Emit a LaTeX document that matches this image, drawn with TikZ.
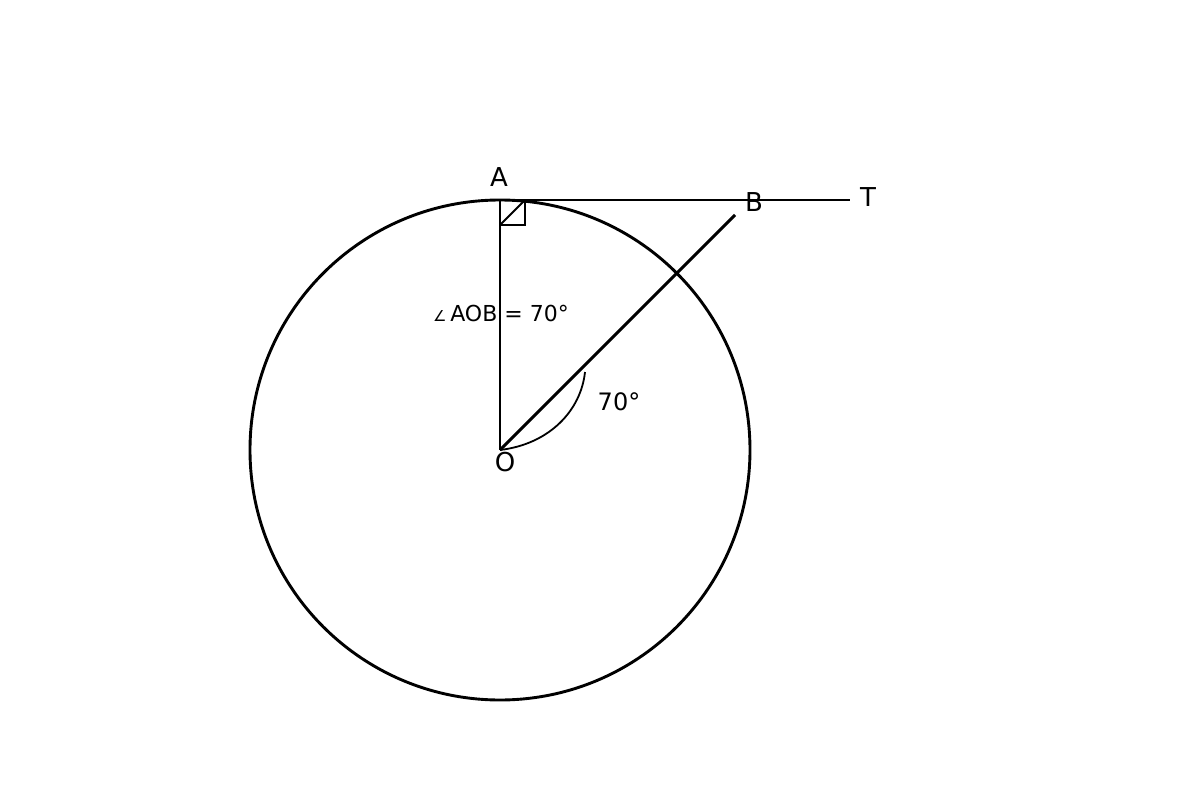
\documentclass[tikz,border=0pt]{standalone}
\usepackage{fontspec}
\setmainfont{DejaVu Sans}
\begin{document}
\begin{tikzpicture}[x=1pt,y=-1pt,
  thick line/.style={line width=2.9pt,black},
  thin line/.style={line width=1.8pt,black},
  lbl/.style={inner sep=0pt,font=\fontsize{26}{30}\selectfont},
  lblsmall/.style={inner sep=0pt,font=\fontsize{22}{26}\selectfont}]
\useasboundingbox (0,0) rectangle (1200,800);
\coordinate (O) at (500,450);
\coordinate (A) at (500,200);
\coordinate (T) at (850,200);
\coordinate (B) at (735,215);
\coordinate (S1) at (525,200);
\coordinate (S2) at (525,225);
\coordinate (S3) at (500,225);
\coordinate (E) at (585,372);
\draw[thick line] (O) circle[radius=250];
\draw[thick line] (A) -- (T);
\draw[thick line] (O) -- (A);
\draw[thick line] (O) -- (B);
\draw[thin line] (A) -- (S1) -- (S2) -- (S3) -- cycle;
\draw[thin line] (S3) -- (S1);
\draw[thin line] (O) .. controls (550,444) and (581,410) .. (E);
\node[lbl] (lA) at (499,177) {A};
\node[lbl] (lB) at (754,202) {B};
\node[lbl] (lT) at (868,197) {T};
\node[lbl] (lO) at (505,462) {O};
\node[lblsmall] (lang) at (501,313) {{\fontsize{15}{18}\selectfont ∠}\,AOB = 70°};
\node[lblsmall,font=\fontsize{24}{28}\selectfont] (l70) at (619,402) {70°};
\end{tikzpicture}
\end{document}
